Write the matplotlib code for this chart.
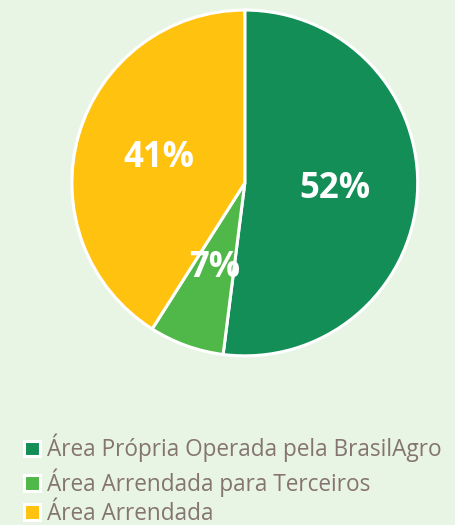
import matplotlib
matplotlib.use("Agg")
import matplotlib.pyplot as plt

categories = ["Área Própria Operada pela BrasilAgro", "Área Arrendada para Terceiros", "Área Arrendada"]
values = [52, 7, 41]
labels = ["52%", "7%", "41%"]
colors = ["#138E57", "#50B848", "#FFC20E"]
bg = "#E8F5E4"

fig = plt.figure(figsize=(4.55, 5.25), dpi=100, facecolor=bg)
ax = fig.add_axes([0.158, 0.322, 0.760, 0.659])
ax.set_facecolor(bg)
wedges, texts = ax.pie(values, colors=colors, startangle=90, counterclock=False,
                       wedgeprops=dict(edgecolor="white", linewidth=2.2),
                       labels=labels, labeldistance=0.52)
for t in texts:
    t.set_color("white")
    t.set_fontsize(25)
    t.set_fontweight("bold")
    t.set_fontfamily("Open Sans")
    t.set_ha("center")
    t.set_va("center")
ax.set_aspect("equal")
ax.set_xlim(-1, 1)
ax.set_ylim(-1, 1)
ax.axis("off")

leg = fig.legend(wedges, categories, loc="upper left", bbox_to_anchor=(0.028, 0.195),
                 frameon=False, handlelength=0.7, handleheight=0.7, handletextpad=0.3,
                 labelspacing=0.25, prop=dict(family="Open Sans", size=16.3), borderpad=0)
for t in leg.get_texts():
    t.set_color("#857570")

fig.savefig("out.png", dpi=100, facecolor=bg)
